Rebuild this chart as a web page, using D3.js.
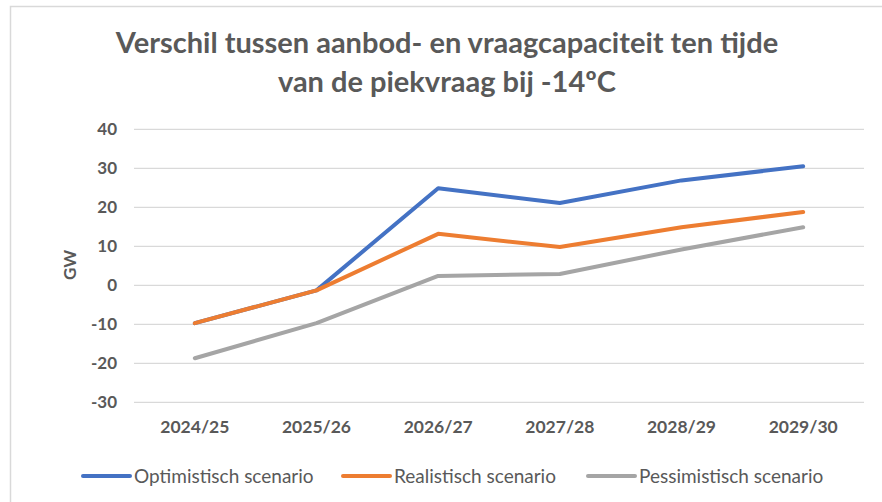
<!DOCTYPE html>
<html>
<head>
<meta charset="utf-8">
<script src="https://cdn.jsdelivr.net/npm/d3@7"></script>
<style>
  body { margin: 0; background: #fff; }
  text { font-family: Lato, "Open Sans", sans-serif; fill: #595959; }
</style>
</head>
<body>
<div id="chart"></div>
<script>
var seizoenen = ['2024/25', '2025/26', '2026/27', '2027/28', '2028/29', '2029/30']
var optimistisch = [-9.7, -1.3, 24.9, 21.1, 26.9, 30.5]
var realistisch = [-9.7, -1.3, 13.2, 9.8, 14.9, 18.8]
var pessimistisch = [-18.7, -9.7, 2.4, 2.9, 9.2, 14.9]
var yTicks = [-30, -20, -10, 0, 10, 20, 30, 40]
var titel = ['Verschil tussen aanbod- en vraagcapaciteit ten tijde', 'van de piekvraag bij -14ºC']

var series = [
  {name: 'Optimistisch scenario', values: optimistisch, color: '#4472C4'},
  {name: 'Realistisch scenario', values: realistisch, color: '#ED7D31'},
  {name: 'Pessimistisch scenario', values: pessimistisch, color: '#A5A5A5'}
]

var width = 882, height = 502
var margin = {top: 129, right: 18, bottom: 100, left: 134}

var svg = d3.select('#chart').append('svg')
  .attr('width', width)
  .attr('height', height)

// kader
svg.append('rect')
  .attr('x', 10.5).attr('y', 6.5)
  .attr('width', 900).attr('height', 600)
  .attr('fill', 'none')
  .attr('stroke', '#d9d9d9')
  .attr('stroke-width', 1.5)

var x = d3.scaleBand()
  .domain(seizoenen)
  .range([margin.left, width - margin.right])

var y = d3.scaleLinear()
  .domain([-30, 40])
  .range([402.3, margin.top + 0.3])

// titel
svg.append('g').selectAll('text')
  .data(titel)
  .enter().append('text')
    .attr('x', 447)
    .attr('y', (d, i) => 53 + i * 39)
    .attr('text-anchor', 'middle')
    .style('font-size', '29px')
    .style('font-weight', 700)
    .text(d => d)

// rasterlijnen
svg.append('g').selectAll('line')
  .data(yTicks)
  .enter().append('line')
    .attr('x1', x.range()[0])
    .attr('x2', x.range()[1])
    .attr('y1', d => y(d))
    .attr('y2', d => y(d))
    .attr('stroke', '#d9d9d9')
    .attr('stroke-width', 1.2)

// y-as labels
var yAxis = svg.append('g')
  .attr('transform', 'translate(' + (margin.left - 17) + ',0)')
  .call(d3.axisLeft(y).tickValues(yTicks).tickFormat(d => String(d)).tickSize(0).tickPadding(0))
yAxis.select('.domain').remove()
yAxis.selectAll('text')
  .style('font-size', '17px')
  .style('font-weight', 700)
  .attr('fill', '#595959')

// x-as labels
var xAxis = svg.append('g')
  .attr('transform', 'translate(0,' + 421 + ')')
  .call(d3.axisBottom(x).tickSize(0).tickPadding(0))
xAxis.select('.domain').remove()
xAxis.selectAll('text')
  .style('font-size', '17.5px')
  .style('font-weight', 700)
  .attr('fill', '#595959')

svg.append('text')
  .attr('transform', 'translate(76,265) rotate(-90)')
  .attr('text-anchor', 'middle')
  .style('font-size', '17px')
  .style('font-weight', 700)
  .text('GW')

// lijnen
var line = d3.line()
  .x((d, i) => x(seizoenen[i]) + x.bandwidth() / 2)
  .y(d => y(d))

svg.append('g').selectAll('path')
  .data(series)
  .enter().append('path')
    .attr('d', d => line(d.values))
    .attr('fill', 'none')
    .attr('stroke', d => d.color)
    .attr('stroke-width', 4)
    .attr('stroke-linejoin', 'round')
    .attr('stroke-linecap', 'round')

// legenda
var legendX = [83, 343, 588]
var legend = svg.append('g').selectAll('g')
  .data(series)
  .enter().append('g')
    .attr('transform', (d, i) => 'translate(' + legendX[i] + ',476)')

legend.append('line')
  .attr('x1', 0).attr('x2', 47)
  .attr('stroke', d => d.color)
  .attr('stroke-width', 4)
  .attr('stroke-linecap', 'round')

legend.append('text')
  .attr('x', 51)
  .attr('dy', '0.35em')
  .style('font-size', '19px')
  .text(d => d.name)
</script>
</body>
</html>
